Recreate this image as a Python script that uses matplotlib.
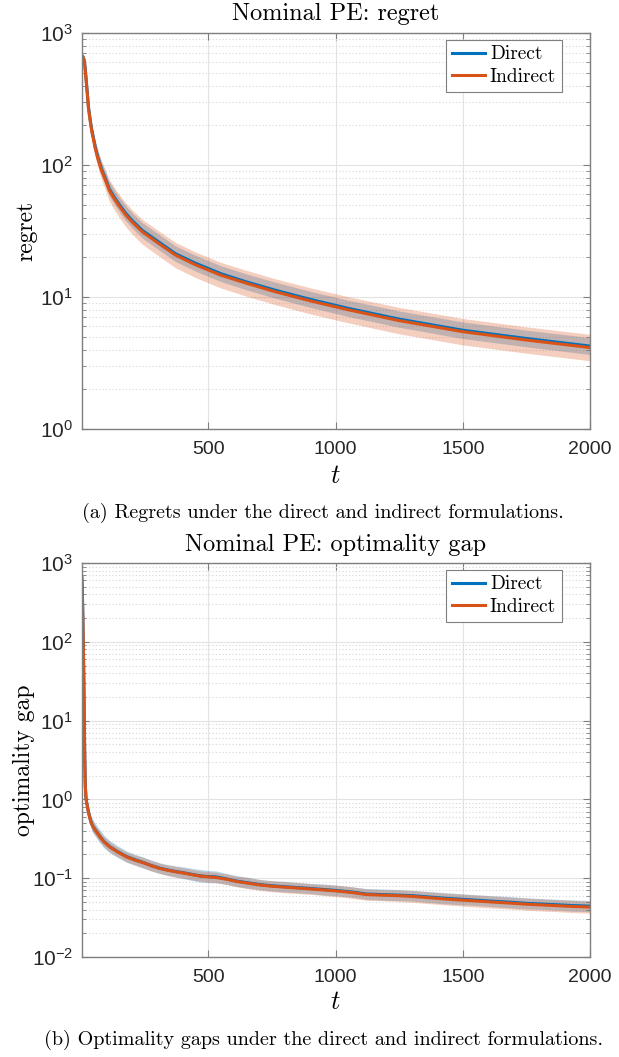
import numpy as np
import matplotlib
matplotlib.use('Agg')
import matplotlib.pyplot as plt
from matplotlib.ticker import LogLocator, NullFormatter

plt.rcParams['font.family'] = 'Liberation Sans'
plt.rcParams['mathtext.fontset'] = 'cm'
plt.rcParams['mathtext.rm'] = 'Liberation Sans'
plt.rcParams['mathtext.it'] = 'Liberation Sans:italic'
plt.rcParams['mathtext.bf'] = 'Liberation Sans:bold'
plt.rcParams['mathtext.sf'] = 'Liberation Sans'

BLUE = '#0072BD'
ORANGE = '#D95319'
SERIF = 'cmr10'

# ---- panel (a): regret ----
t_reg = [1, 4, 8, 12, 16, 20, 24, 28, 35, 41, 48, 54, 65, 80, 95, 110, 130,
         150, 175, 200, 240, 300, 370, 450, 550, 650, 760, 900, 1050, 1250,
         1500, 1750, 2000]
reg_direct = [680, 672, 655, 620, 530, 430, 350, 280, 222, 186, 160, 140, 115,
              93, 79, 66, 57, 50, 43, 38, 32, 26.5, 21.3, 18.0, 15.0, 13.0,
              11.3, 9.6, 8.2, 6.8, 5.6, 4.85, 4.25]
reg_indirect = [680, 671, 650, 608, 515, 418, 340, 272, 216, 181, 156, 136, 112,
                90.5, 77, 64.3, 55.5, 48.7, 41.9, 37.0, 31.2, 25.8, 20.8, 17.5,
                14.6, 12.7, 11.0, 9.35, 8.0, 6.62, 5.46, 4.72, 4.14]
# half widths of the shaded bands, in decades
reg_direct_hw = [0, 0, 0.004, 0.008, 0.012, 0.016, 0.02, 0.024, 0.03, 0.035,
                 0.04, 0.043, 0.047, 0.05, 0.052, 0.054, 0.055, 0.056, 0.057,
                 0.058, 0.058, 0.059, 0.059, 0.06, 0.06, 0.06, 0.061, 0.061,
                 0.062, 0.062, 0.063, 0.063, 0.064]
reg_indirect_hw = [0, 0, 0.006, 0.012, 0.018, 0.024, 0.03, 0.036, 0.044, 0.05,
                   0.056, 0.06, 0.066, 0.072, 0.077, 0.081, 0.085, 0.088, 0.09,
                   0.092, 0.094, 0.095, 0.096, 0.097, 0.097, 0.098, 0.098,
                   0.099, 0.099, 0.1, 0.1, 0.1, 0.1]

# ---- panel (b): optimality gap ----
t_gap = [1, 2, 4, 6, 8, 10, 12, 14, 16, 19, 24, 28, 34, 40, 47, 60, 73, 90,
         113, 140, 178, 210, 244, 275, 309, 340, 375, 410, 440, 470, 499, 530,
         571, 610, 650, 702, 750, 800, 850, 900, 950, 1000, 1060, 1121, 1180,
         1246, 1300, 1360, 1420, 1496, 1560, 1620, 1690, 1749, 1810, 1870,
         1930, 2000]
gap_direct = [710, 690, 480, 240, 100, 38, 10, 3.2, 1.5, 1.02, 0.82, 0.7, 0.58,
              0.5, 0.45, 0.39, 0.34, 0.29, 0.25, 0.22, 0.188, 0.172, 0.158,
              0.145, 0.134, 0.127, 0.121, 0.116, 0.111, 0.107, 0.105, 0.104,
              0.098, 0.092, 0.088, 0.083, 0.080, 0.078, 0.076, 0.074, 0.072,
              0.070, 0.067, 0.063, 0.062, 0.061, 0.060, 0.058, 0.056, 0.054,
              0.0525, 0.051, 0.0495, 0.048, 0.047, 0.046, 0.045, 0.0442]
gap_indirect = [705, 685, 470, 232, 96, 36, 9.5, 3.0, 1.45, 1.0, 0.81, 0.69,
                0.575, 0.495, 0.445, 0.385, 0.337, 0.288, 0.248, 0.218, 0.186,
                0.170, 0.157, 0.144, 0.133, 0.126, 0.120, 0.115, 0.110, 0.106,
                0.104, 0.102, 0.097, 0.091, 0.087, 0.082, 0.079, 0.077, 0.075,
                0.073, 0.071, 0.069, 0.066, 0.062, 0.0610, 0.0600, 0.0588,
                0.0567, 0.0547, 0.0527, 0.0512, 0.0497, 0.0482, 0.0468, 0.0458,
                0.0448, 0.0438, 0.0430]
gap_direct_hw = [0, 0, 0, 0, 0, 0.005, 0.01, 0.02, 0.03, 0.045, 0.06, 0.07,
                 0.08, 0.085, 0.085, 0.08, 0.085, 0.08, 0.078, 0.075, 0.072,
                 0.07, 0.072, 0.07, 0.068, 0.07, 0.072, 0.075, 0.078, 0.08,
                 0.078, 0.075, 0.07, 0.068, 0.07, 0.066, 0.065, 0.068, 0.066,
                 0.065, 0.07, 0.068, 0.066, 0.07, 0.072, 0.07, 0.068, 0.07,
                 0.072, 0.07, 0.068, 0.07, 0.072, 0.07, 0.068, 0.07, 0.072,
                 0.07]
gap_indirect_hw = [0, 0, 0, 0, 0, 0.004, 0.008, 0.016, 0.025, 0.038, 0.05,
                   0.058, 0.065, 0.068, 0.068, 0.065, 0.066, 0.064, 0.063,
                   0.062, 0.062, 0.063, 0.065, 0.066, 0.065, 0.066, 0.067,
                   0.066, 0.065, 0.066, 0.068, 0.066, 0.067, 0.068, 0.07,
                   0.068, 0.07, 0.072, 0.07, 0.068, 0.07, 0.072, 0.074, 0.072,
                   0.07, 0.074, 0.076, 0.075, 0.074, 0.076, 0.078, 0.076,
                   0.075, 0.077, 0.078, 0.076, 0.077, 0.078]

W, H = 619, 1057
fig = plt.figure(figsize=(W / 100, H / 100), dpi=100)


def px(x0, y0, x1, y1):
    return [x0 / W, 1 - y1 / H, (x1 - x0) / W, (y1 - y0) / H]


def band(ax, t, mid, hw, color):
    mid = np.array(mid)
    hw = np.array(hw)
    ax.fill_between(t, mid * 10 ** (-hw), mid * 10 ** hw, color=color,
                    alpha=0.28, linewidth=0)


def style(ax, ymin, ymax):
    ax.set_yscale('log')
    ax.set_xlim(1, 2000)
    ax.set_ylim(10.0 ** ymin, 10.0 ** ymax)
    ax.set_xticks([500, 1000, 1500, 2000])
    ax.set_xticklabels(['500', '1000', '1500', '2000'], fontsize=14,
                       color='#262626')
    ex = list(range(ymin, ymax + 1))
    ax.set_yticks([10.0 ** e for e in ex])
    labs = ax.set_yticklabels(['$10^{%d}$' % e for e in ex], fontsize=15,
                              color='#262626')
    for lb in labs:
        lb.set_math_fontfamily('custom')
    ax.yaxis.set_minor_locator(LogLocator(base=10, subs=np.arange(2, 10),
                                          numticks=20))
    ax.yaxis.set_minor_formatter(NullFormatter())
    ax.tick_params(which='both', direction='in', top=True, right=True,
                   color='#7f7f7f')
    ax.tick_params(which='major', length=5, width=0.8)
    ax.tick_params(which='minor', length=3, width=0.6)
    ax.tick_params(axis='x', pad=9)
    ax.tick_params(axis='y', pad=6)
    ax.grid(True, which='major', color='#e3e3e3', linewidth=0.8)
    ax.grid(True, which='minor', axis='y', color='#d6d6d6', linewidth=0.8,
            linestyle=(0, (1, 2)))
    ax.set_axisbelow(True)
    for s in ax.spines.values():
        s.set_color('#7f7f7f')
        s.set_linewidth(1.0)


def panel(ax, t, d, i, dhw, ihw):
    band(ax, t, d, dhw, BLUE)
    band(ax, t, i, ihw, ORANGE)
    ax.plot(t, d, color=BLUE, lw=2.2, label='Direct')
    ax.plot(t, i, color=ORANGE, lw=2.2, label='Indirect')
    leg = ax.legend(loc='upper right', bbox_to_anchor=(0.945, 0.983),
                    prop={'family': SERIF, 'size': 14}, fancybox=False,
                    framealpha=1, edgecolor='#7f7f7f', borderpad=0.3,
                    labelspacing=0.25, handlelength=1.7, handletextpad=0.25,
                    borderaxespad=0)
    leg.get_frame().set_linewidth(0.8)


ax1 = fig.add_axes(px(81.5, 33, 590, 429))
panel(ax1, t_reg, reg_direct, reg_indirect, reg_direct_hw, reg_indirect_hw)
style(ax1, 0, 3)

ax2 = fig.add_axes(px(81.5, 563, 590, 957))
panel(ax2, t_gap, gap_direct, gap_indirect, gap_direct_hw, gap_indirect_hw)
style(ax2, -2, 3)

cx = 335.75 / W
fig.text(cx, 1 - 14 / H, 'Nominal PE: regret', ha='center', va='center',
         family=SERIF, fontsize=17.5)
fig.text(cx, 1 - 545 / H, 'Nominal PE: optimality gap', ha='center',
         va='center', family=SERIF, fontsize=17.5)
fig.text(26 / W, 1 - 231 / H, 'regret', rotation=90, ha='center',
         va='center', family=SERIF, fontsize=17)
fig.text(24 / W, 1 - 760 / H, 'optimality gap', rotation=90, ha='center',
         va='center', family=SERIF, fontsize=17)
fig.text(cx, 1 - 476 / H, '$t$', ha='center', va='center', fontsize=19)
fig.text(cx, 1 - 1002 / H, '$t$', ha='center', va='center', fontsize=19)
fig.text(323 / W, 1 - 513 / H,
         '(a) Regrets under the direct and indirect formulations.',
         ha='center', va='center', family=SERIF, fontsize=14.5)
fig.text(323 / W, 1 - 1040 / H,
         '(b) Optimality gaps under the direct and indirect formulations.',
         ha='center', va='center', family=SERIF, fontsize=14.5)

fig.savefig('out.png', dpi=100)
